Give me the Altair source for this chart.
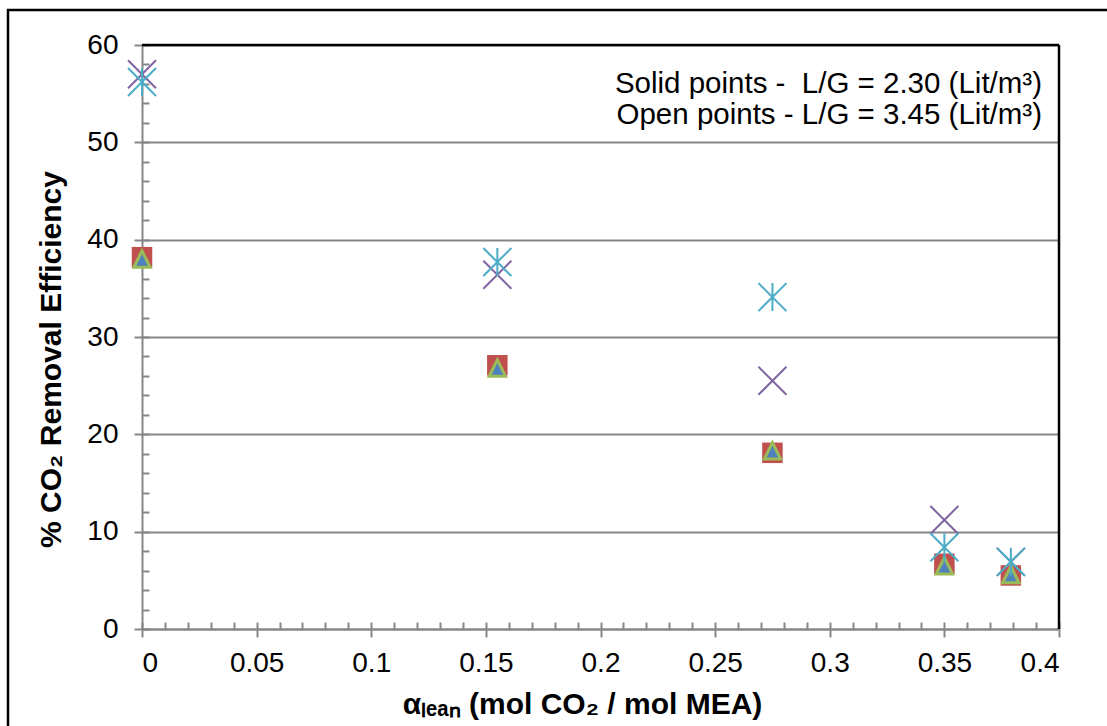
import altair as alt
import pandas as pd

# ---- data ----
alpha_lean = [0.0, 0.155, 0.275, 0.35, 0.379]
solid_square = [38.2, 27.1, 18.1, 6.7, 5.5]      # red squares (L/G = 2.30)
solid_triangle = [38.0, 26.8, 18.3, 6.5, 5.6]    # blue/green triangles (L/G = 2.30)
open_cross = [57.0, 36.4, 25.5, 11.2, 6.9]       # purple x (L/G = 3.45)
open_star = [56.2, 37.7, 34.1, 8.4, 6.9]         # aqua star (L/G = 3.45)

x_major = [0, 0.05, 0.1, 0.15, 0.2, 0.25, 0.3, 0.35, 0.4]
y_major = [0, 10, 20, 30, 40, 50, 60]
x_minor = [round(i * 0.01, 2) for i in range(0, 41)]
y_minor = [i * 2 for i in range(0, 31)]

note_lines = ["Solid points -\u00a0 L/G = 2.30 (Lit/m³)", "Open points - L/G = 3.45 (Lit/m³)"]

x_title = "αₗₑₐₙ (mol CO₂ / mol MEA)"
y_title = "% CO₂ Removal Efficiency"

# ---- layout ----
W, H = 917, 584
FONT = "Liberation Sans"
GRAY = "#878787"
FS = 28
TFS = 30

df_sq = pd.DataFrame({"a": alpha_lean, "v": solid_square})
df_tr = pd.DataFrame({"a": alpha_lean, "v": solid_triangle})
df_cr = pd.DataFrame({"a": alpha_lean, "v": open_cross})
df_st = pd.DataFrame({"a": alpha_lean, "v": open_star})

xs = alt.Scale(domain=[0, 0.4], nice=False, zero=False)
ys = alt.Scale(domain=[0, 60], nice=False, zero=False)

x_main = alt.Axis(
    orient="bottom", values=x_major, labelExpr="format(datum.value, '.2~f')",
    grid=False, domainColor=GRAY, domainWidth=2, tickColor=GRAY, tickWidth=2, tickSize=8,
    labelFont=FONT, labelFontSize=FS, labelColor="black", labelPadding=12,
    title=x_title, titleFont=FONT, titleFontSize=TFS, titleFontWeight="bold",
    titleColor="black", titlePadding=12, titleX=440,
)
y_main = alt.Axis(
    orient="left", values=y_major, grid=True, gridColor=GRAY, gridWidth=2,
    domainColor=GRAY, domainWidth=2, tickColor=GRAY, tickWidth=2, tickSize=8,
    labelFont=FONT, labelFontSize=FS, labelColor="black", labelPadding=16,
    title=y_title, titleFont=FONT, titleFontSize=TFS, titleFontWeight="bold",
    titleColor="black", titlePadding=20, titleY=314,
)
x_min_ax = alt.Axis(
    orient="bottom", values=x_minor, offset=-7, tickSize=7, tickColor=GRAY, tickWidth=2,
    domain=False, labels=False, grid=False, title=None,
)
y_min_ax = alt.Axis(
    orient="left", values=y_minor, offset=-7, tickSize=7, tickColor=GRAY, tickWidth=2,
    domain=False, labels=False, grid=False, title=None,
)

SQUARE = "M-1,-1L1,-1L1,1L-1,1Z"
TRI = "M0,-1L1,1L-1,1Z"
XMARK = "M-1,-1L1,1M-1,1L1,-1"
STAR = "M-1,-1L1,1M-1,1L1,-1M0,-1L0,1"

squares = alt.Chart(df_sq).mark_point(
    shape=SQUARE, filled=True, fill="#C0504D", strokeWidth=0, size=420, opacity=1
).encode(
    x=alt.X("a:Q", scale=xs, axis=x_main),
    y=alt.Y("v:Q", scale=ys, axis=y_main),
)

triangles = alt.Chart(df_tr).mark_point(
    shape=TRI, filled=True, fill="#4F81BD", stroke="#9BBB59", strokeWidth=3,
    size=270, opacity=1,
).encode(
    x=alt.X("a:Q", scale=xs, axis=x_min_ax),
    y=alt.Y("v:Q", scale=ys, axis=y_min_ax),
)

crosses = alt.Chart(df_cr).mark_point(
    shape=XMARK, filled=False, stroke="#8064A2", strokeWidth=2, size=784, opacity=1
).encode(
    x=alt.X("a:Q", scale=xs, axis=None),
    y=alt.Y("v:Q", scale=ys, axis=None),
)

stars = alt.Chart(df_st).mark_point(
    shape=STAR, filled=False, stroke="#4BACC6", strokeWidth=2, size=784, opacity=1
).encode(
    x=alt.X("a:Q", scale=xs, axis=None),
    y=alt.Y("v:Q", scale=ys, axis=None),
)

# plot-area border (top and right black edges)
border_top = alt.Chart(pd.DataFrame({"k": [0]})).mark_rule(color="black", strokeWidth=2.5).encode(
    x=alt.value(0), x2=alt.value(W), y=alt.value(0)
)
border_right = alt.Chart(pd.DataFrame({"k": [0]})).mark_rule(color="black", strokeWidth=2.5).encode(
    x=alt.value(W), y=alt.value(0), y2=alt.value(H)
)
# outer chart frame
frame = alt.Chart(pd.DataFrame({"k": [0]})).mark_rect(
    fill="transparent", stroke="black", strokeWidth=2.5
).encode(
    x=alt.value(-134), x2=alt.value(1100), y=alt.value(-35), y2=alt.value(800)
)

note1 = alt.Chart(pd.DataFrame({"t": [note_lines[0]]})).mark_text(
    align="right", baseline="alphabetic", font=FONT, fontSize=29.5, color="black"
).encode(text="t:N", x=alt.value(900), y=alt.value(48))
note2 = alt.Chart(pd.DataFrame({"t": [note_lines[1]]})).mark_text(
    align="right", baseline="alphabetic", font=FONT, fontSize=29.5, color="black"
).encode(text="t:N", x=alt.value(900), y=alt.value(79))

chart = alt.layer(
    frame, squares, triangles, crosses, stars, border_top, border_right, note1, note2
).resolve_axis(x="independent", y="independent").properties(
    width=W, height=H,
    autosize=alt.AutoSizeParams(type="none"),
    padding={"left": 142, "top": 45, "right": 48, "bottom": 97},
).configure_view(strokeWidth=0).configure(background="white")

chart.save("out.html", embed_options={"renderer": "svg", "actions": False})
